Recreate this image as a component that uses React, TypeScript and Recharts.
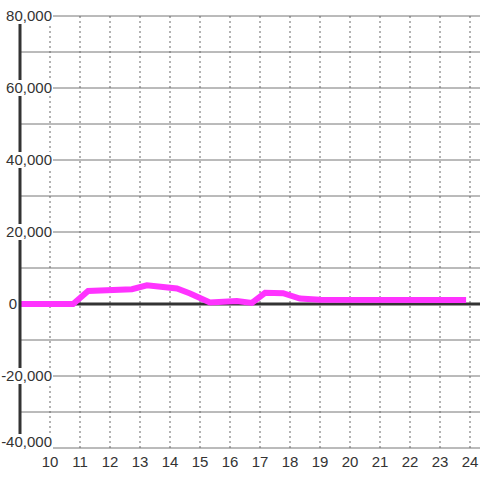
import React from "react";
import {
  CartesianGrid,
  Line,
  LineChart,
  ReferenceLine,
  XAxis,
  YAxis,
} from "recharts";

// hours of the day (decimal) and the value at each point
const HOURS = [9.0, 10.77, 11.27, 12.73, 13.23, 14.23, 14.67, 15.33, 16.23, 16.73, 17.17, 17.77, 18.33, 19.0, 23.77];
const VALUES = [0, 0, 3600, 4100, 5200, 4300, 2900, 400, 800, 300, 3100, 3000, 1500, 1200, 1100];

const X_TICKS = [10, 11, 12, 13, 14, 15, 16, 17, 18, 19, 20, 21, 22, 23, 24];
const Y_TICKS = [-40000, -20000, 0, 20000, 40000, 60000, 80000];
const Y_GRID = [-40000, -30000, -20000, -10000, 0, 10000, 20000, 30000, 40000, 50000, 60000, 70000, 80000];

const data = HOURS.map((h, i) => ({ h, v: VALUES[i] }));

const FONT = "'Liberation Sans', Arial, sans-serif";

// eslint-disable-next-line @typescript-eslint/no-explicit-any
function YTick({ y, payload }: any) {
  const label = Number(payload.value).toLocaleString("en-US");
  // the zero label sits left of the axis, the others overlap the plot
  const right = payload.value === 0 ? 17 : 52;
  // bottom label is lifted so it stays inside the plot
  const dy = payload.value === Y_TICKS[0] ? -1 : 5;
  const w = label.length * 8.1;
  return (
    <g>
      <rect x={right - w - 1} y={y + dy - 13} width={w + 2} height={16} fill="#fff" />
      <text x={right} y={y} dy={dy} textAnchor="end" fill="#333" fontSize={15} fontFamily={FONT}>
        {label}
      </text>
    </g>
  );
}

export default function App() {
  return (
    <div style={{ position: "absolute", left: 0, top: 0, width: 480, height: 480, background: "#fff" }}>
      <LineChart width={480} height={480} data={data} margin={{ top: 16, right: 0, bottom: 2, left: 0 }}>
        <CartesianGrid vertical={false} horizontalValues={Y_GRID} stroke="#777" strokeWidth={1} />
        {X_TICKS.map((t) => (
          <ReferenceLine key={t} x={t} stroke="#666" strokeDasharray="2 3" strokeWidth={1} />
        ))}
        <XAxis
          dataKey="h"
          type="number"
          height={30}
          domain={[9, 24.3333]}
          allowDataOverflow
          ticks={X_TICKS}
          axisLine={false}
          tickLine={false}
          tick={{ fill: "#333", fontSize: 15, fontFamily: FONT }}
        />
        <ReferenceLine y={0} stroke="#333" strokeWidth={3} />
        <YAxis
          type="number"
          width={20}
          domain={[-40000, 80000]}
          ticks={Y_TICKS}
          tickLine={false}
          axisLine={{ stroke: "#333", strokeWidth: 3 }}
          tick={<YTick />}
        />
        <Line
          dataKey="v"
          type="linear"
          stroke="#ff33ff"
          strokeWidth={6}
          strokeLinecap="square"
          dot={false}
          isAnimationActive={false}
        />
      </LineChart>
    </div>
  );
}
